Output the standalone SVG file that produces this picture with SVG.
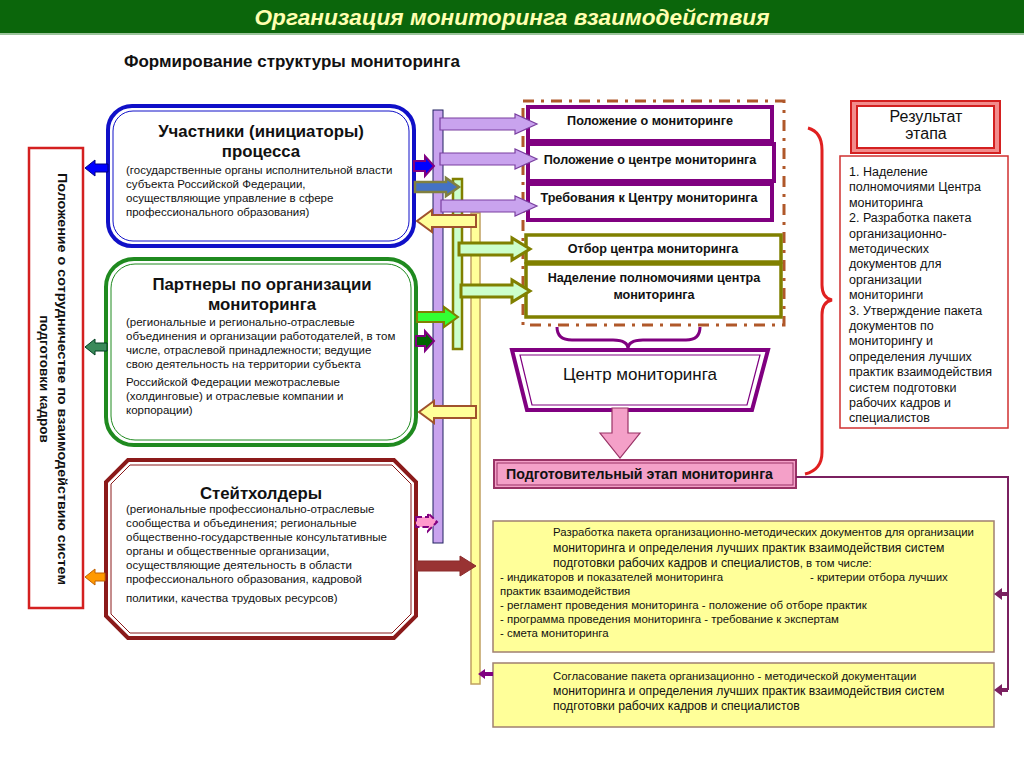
<svg xmlns="http://www.w3.org/2000/svg" width="1024" height="768" viewBox="0 0 1024 768">
<style>
text{font-family:"Liberation Sans",Arial,sans-serif;fill:#111}
.t{font-weight:bold;font-size:16.8px;text-anchor:middle}
.b{font-size:11.5px}
.pb{font-weight:bold;font-size:12.6px;text-anchor:middle}
.r{font-size:12.5px}
.y{font-size:11.4px}
.y2{font-size:12.2px}
.lav{fill:#c9a3ee;stroke:#7a3fa0;stroke-width:1.2}
.lg{fill:#ccffcc;stroke:#808000;stroke-width:3}
.yl{fill:#ffff99;stroke:#a0522d;stroke-width:2}
</style>
<rect width="1024" height="768" fill="#fff"/>
<rect x="0" y="0" width="1024" height="33" fill="#0b660b"/>
<rect x="0" y="33" width="1024" height="2" fill="#9cc49c"/>
<text x="512" y="25" text-anchor="middle" font-size="22" font-weight="bold" font-style="italic" style="fill:#ffffb0" textLength="515" lengthAdjust="spacingAndGlyphs">Организация мониторинга взаимодействия</text>
<text x="124" y="67" font-size="16.5" font-weight="bold" textLength="336" lengthAdjust="spacingAndGlyphs">Формирование структуры мониторинга</text>

<g id="left-doc">
<rect x="29" y="148" width="54" height="460" fill="#fff" stroke="#d42020" stroke-width="2.5"/>
<text transform="translate(58,379) rotate(90)" text-anchor="middle" font-size="13.5" font-weight="bold" textLength="412" lengthAdjust="spacingAndGlyphs">Положение о сотрудничестве по взаимодействию систем</text>
<text transform="translate(40,379) rotate(90)" text-anchor="middle" font-size="13.5" font-weight="bold">подготовки кадров</text>
</g>

<g id="participants">
<rect x="108" y="106" width="306" height="140" rx="24" fill="#fff" stroke="#1010c8" stroke-width="4"/>
<rect x="113" y="111" width="296" height="130" rx="20" fill="none" stroke="#1010c8" stroke-width="1"/>
<text class="t" x="261" y="137">Участники (инициаторы)</text>
<text class="t" x="261" y="157">процесса</text>
<text class="b" x="126" y="174">(государственные органы исполнительной власти</text>
<text class="b" x="126" y="188">субъекта Российской Федерации,</text>
<text class="b" x="126" y="202">осуществляющие управление в сфере</text>
<text class="b" x="126" y="216">профессионального образования)</text>
</g>

<g id="partners">
<rect x="106" y="259" width="310" height="186" rx="28" fill="#fff" stroke="#1f8a1f" stroke-width="4"/>
<rect x="111" y="264" width="300" height="176" rx="24" fill="none" stroke="#1f8a1f" stroke-width="1"/>
<text class="t" x="262" y="290" font-size="17">Партнеры по организации</text>
<text class="t" x="262" y="310" font-size="17">мониторинга</text>
<text class="b" x="126" y="326">(региональные и регионально-отраслевые</text>
<text class="b" x="126" y="340">объединения и организации работодателей, в том</text>
<text class="b" x="126" y="354">числе,  отраслевой принадлежности; ведущие</text>
<text class="b" x="126" y="368">свою деятельность на территории субъекта</text>
<text class="b" x="126" y="386">Российской Федерации  межотраслевые</text>
<text class="b" x="126" y="400">(холдинговые) и отраслевые компании и</text>
<text class="b" x="126" y="414">корпорации)</text>
</g>

<g id="stakeholders">
<polygon points="128,460 394,460 416,482 416,616 394,638 128,638 106,616 106,482" fill="#fff" stroke="#8b1a1a" stroke-width="4"/>
<polygon points="130,465 392,465 411,484 411,614 392,633 130,633 111,614 111,484" fill="none" stroke="#8b1a1a" stroke-width="1"/>
<text class="t" x="261" y="499" font-size="18">Стейтхолдеры</text>
<text class="b" x="126" y="513">(региональные профессионально-отраслевые</text>
<text class="b" x="126" y="527">сообщества и объединения; региональные</text>
<text class="b" x="126" y="541">общественно-государственные консультативные</text>
<text class="b" x="126" y="555">органы и общественные организации,</text>
<text class="b" x="126" y="569">осуществляющие деятельность в области</text>
<text class="b" x="126" y="583">профессионального образования, кадровой</text>
<text class="b" x="126" y="602">политики, качества трудовых ресурсов)</text>
</g>

<g id="documents">
<rect x="523" y="101" width="261" height="224" fill="none" stroke="#b0582a" stroke-width="3" stroke-dasharray="11,7,3,7"/>
<rect x="528" y="107" width="244" height="34" fill="#fff" stroke="#800080" stroke-width="4"/>
<text class="pb" x="650" y="125" font-size="12.4">Положение о мониторинге</text>
<rect x="528" y="144" width="246" height="37" fill="#fff" stroke="#800080" stroke-width="4"/>
<text class="pb" x="650" y="164">Положение о центре мониторинга</text>
<rect x="528" y="184" width="244" height="36" fill="#fff" stroke="#800080" stroke-width="4"/>
<text class="pb" x="649" y="202" font-size="12.8">Требования к Центру мониторинга</text>
<rect x="526" y="235" width="255" height="27" fill="#fff" stroke="#808000" stroke-width="3.5"/>
<text class="pb" x="653" y="253" font-size="15">Отбор центра мониторинга</text>
<rect x="526" y="264" width="255" height="53" fill="#fff" stroke="#808000" stroke-width="3.5"/>
<text class="pb" x="654" y="282" font-size="13.4">Наделение полномочиями  центра</text>
<text class="pb" x="654" y="299" font-size="13.4">мониторинга</text>
</g>

<g id="center">
<polygon points="512,350 768,350 752,410 527,410" fill="#fff" stroke="#800080" stroke-width="4"/>
<polygon points="520,355 760,355 747,405 532,405" fill="none" stroke="#800080" stroke-width="1.2"/>
<text x="640" y="380" text-anchor="middle" font-size="17">Центр мониторинга</text>
</g>

<g id="prep">
<rect x="494" y="460" width="302" height="28" fill="#f4a0c8" stroke="#993366" stroke-width="2"/>
<rect x="497" y="463" width="296" height="22" fill="none" stroke="#993366" stroke-width="1"/>
<text x="506" y="479" font-size="14.2" font-weight="bold">Подготовительный этап мониторинга</text>
</g>

<g id="result">
<rect x="851" y="101" width="149" height="52" fill="#f28c8c" stroke="#d42020" stroke-width="2"/>
<rect x="857" y="106" width="137" height="42" fill="#fff" stroke="#d42020" stroke-width="2"/>
<text x="926" y="122" text-anchor="middle" font-size="16">Результат</text>
<text x="926" y="139" text-anchor="middle" font-size="16">этапа</text>
<rect x="840" y="156" width="168" height="272" fill="#fff" stroke="#d03030" stroke-width="1.5"/>
<text class="r" x="849" y="176">1. Наделение</text>
<text class="r" x="849" y="191.4">полномочиями Центра</text>
<text class="r" x="849" y="206.8">мониторинга</text>
<text class="r" x="849" y="222.2">2. Разработка пакета</text>
<text class="r" x="849" y="237.6">организационно-</text>
<text class="r" x="849" y="253">методических</text>
<text class="r" x="849" y="268.4">документов для</text>
<text class="r" x="849" y="283.8">организации</text>
<text class="r" x="849" y="299.2">мониторинги</text>
<text class="r" x="849" y="314.6">3. Утверждение пакета</text>
<text class="r" x="849" y="330">документов по</text>
<text class="r" x="849" y="345.4">мониторингу и</text>
<text class="r" x="849" y="360.8">определения лучших</text>
<text class="r" x="849" y="376.2">практик взаимодействия</text>
<text class="r" x="849" y="391.6">систем подготовки</text>
<text class="r" x="849" y="407">рабочих кадров и</text>
<text class="r" x="849" y="422.4">специалистов</text>
</g>

<g id="development">
<rect x="493" y="521" width="501" height="131" fill="#ffff99" stroke="#a08070" stroke-width="1.5"/>
<text class="y" x="553" y="536">Разработка пакета организационно-методических документов для организации</text>
<text class="y2" x="553" y="552">мониторинга и определения лучших практик взаимодействия систем</text>
<text class="y2" x="553" y="567">подготовки рабочих кадров и специалистов<tspan font-size="11.4">, в том числе:</tspan></text>
<text class="y" x="500" y="581">- индикаторов и показателей мониторинга</text>
<text class="y" x="810" y="581">- критерии отбора лучших</text>
<text class="y" x="500" y="595">практик взаимодействия</text>
<text class="y" x="500" y="609">- регламент проведения мониторинга  - положение об отборе практик</text>
<text class="y" x="500" y="623">- программа проведения мониторинга - требование к экспертам</text>
<text class="y" x="500" y="637">- смета мониторинга</text>
</g>

<g id="approval">
<rect x="493" y="663" width="501" height="64" fill="#ffff99" stroke="#a08070" stroke-width="1.5"/>
<text class="y" x="553" y="680">Согласование пакета организационно - методической документации</text>
<text class="y2" x="553" y="695">мониторинга и определения лучших практик взаимодействия систем</text>
<text class="y2" x="553" y="710">подготовки рабочих кадров и специалистов</text>
</g>

<g id="connectors">
<rect x="433" y="110" width="10" height="433" fill="#c9a3ee" stroke="#202060" stroke-width="1"/>
<rect x="453" y="179" width="9" height="170" fill="#ccffcc" stroke="#808000" stroke-width="2.5"/>
<rect x="471" y="213" width="9" height="471" fill="#ffff99" stroke="#c0a060" stroke-width="1.5"/>
<polygon class="lav" points="440,118 515,118 515,114 537,124 515,134 515,130 440,130"/>
<polygon class="lav" points="440,153 515,153 515,149 537,159 515,169 515,165 440,165"/>
<polygon class="lav" points="441,200 515,200 515,196 537,206 515,216 515,212 441,212"/>
<polygon class="lg" points="459,243 512,243 512,238 530,249 512,260 512,255 459,255"/>
<polygon class="lg" points="461,285 512,285 512,280 530,291 512,302 512,297 461,297"/>
<polygon points="414,161 425,161 425,156 434,166 425,176 425,171 414,171" fill="#0000ff" stroke="#800080" stroke-width="2"/>
<polygon points="415,182 446,182 446,178 459,187 446,196 446,192 415,192" fill="#4472c4" stroke="#808040" stroke-width="2.5"/>
<polygon class="yl" points="476,215 432,215 432,210 417,221 432,232 432,227 476,227"/>
<polygon points="417,312 444,312 444,307 458,317 444,327 444,322 417,322" fill="#33ff33" stroke="#808000" stroke-width="2"/>
<polygon points="416,336 425,336 425,331 434,341 425,351 425,346 416,346" fill="#006600" stroke="#800080" stroke-width="2"/>
<polygon class="yl" points="476,406 434,406 434,401 419,412 434,423 434,418 476,418"/>
<polygon points="416,517 428,517 428,513 437,522 428,531 428,527 416,527" fill="#ff99cc" stroke="#800080" stroke-width="2" stroke-dasharray="6,3"/>
<polygon points="416,561 460,561 460,556 476,566 460,576 460,571 416,571" fill="#993333" stroke="#8b2a2a" stroke-width="1"/>
<polygon points="108,164 95,164 95,160 85,168 95,176 95,172 108,172" fill="#0000ff" stroke="#000080" stroke-width="1"/>
<polygon points="107,343 95,343 95,339 85,347 95,355 95,351 107,351" fill="#3a8a5a" stroke="#004020" stroke-width="1"/>
<polygon points="105,573 95,573 95,569 85,577 95,585 95,581 105,581" fill="#ff9900" stroke="#c06000" stroke-width="1"/>
<polygon points="493,672 485,672 485,669 478,674 485,679 485,676 493,676" fill="#800080"/>
<path d="M557,327 Q557,340 572,340 L613,340 Q628,340 628,349 Q628,340 643,340 L686,340 Q700,340 700,327" fill="none" stroke="#800080" stroke-width="3"/>
<polygon points="612,408 628,408 628,433 640,433 620,458 600,433 612,433" fill="#f4a0c8" stroke="#993366" stroke-width="1.2"/>
<path d="M808,128 Q822,132 822,150 L822,285 Q822,298 832,300 Q822,302 822,315 L822,452 Q822,470 805,474" fill="none" stroke="#e02020" stroke-width="3"/>
<path d="M796,477 L1008,477 L1008,690" fill="none" stroke="#7a2060" stroke-width="2"/>
<polygon points="1008,592 1002,592 1002,588 994,594 1002,600 1002,596 1008,596" fill="#7a2060"/>
<polygon points="1008,688 1002,688 1002,684 994,690 1002,696 1002,692 1008,692" fill="#7a2060"/>
</g>
</svg>
